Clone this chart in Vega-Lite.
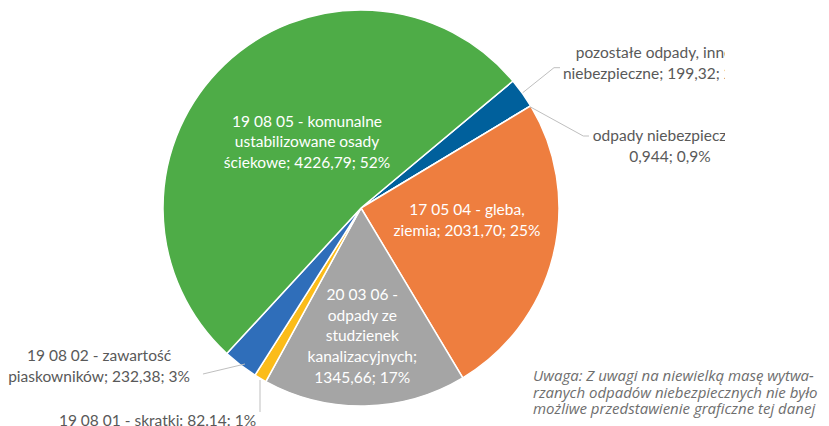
{
  "$schema": "https://vega.github.io/schema/vega-lite/v6.json",
  "width": 725,
  "height": 426,
  "autosize": {"type": "none"},
  "padding": {"left": 0, "top": 0, "right": 104, "bottom": 0},
  "background": "white",
  "config": {"view": {"stroke": null}},
  "datasets": {
    "slices": [
      {"name": "pozostałe odpady, inne niebezpieczne", "value": 199.32, "o": 1},
      {"name": "odpady niebezpieczne", "value": 0.944, "o": 2},
      {"name": "17 05 04 - gleba, ziemia", "value": 2031.70, "o": 3},
      {"name": "20 03 06 - odpady ze studzienek kanalizacyjnych", "value": 1345.66, "o": 4},
      {"name": "19 08 01 - skratki", "value": 82.14, "o": 5},
      {"name": "19 08 02 - zawartość piaskowników", "value": 232.38, "o": 6},
      {"name": "19 08 05 - komunalne ustabilizowane osady ściekowe", "value": 4226.79, "o": 7}
    ],
    "leaders": [
      {"id": "a", "i": 1, "x": 0.8167, "y": 0.5823},
      {"id": "a", "i": 2, "x": 0.9747, "y": 0.7086},
      {"id": "a", "i": 3, "x": 1.0051, "y": 0.7086},
      {"id": "b", "i": 1, "x": 0.8535, "y": 0.5116},
      {"id": "b", "i": 2, "x": 1.1227, "y": 0.3636},
      {"id": "b", "i": 3, "x": 1.1515, "y": 0.3636},
      {"id": "c", "i": 1, "x": -0.5859, "y": -0.7879},
      {"id": "c", "i": 2, "x": -0.798, "y": -0.8384},
      {"id": "d", "i": 1, "x": -0.5101, "y": -0.8687},
      {"id": "d", "i": 2, "x": -0.5101, "y": -1.0303}
    ],
    "inside": [
      {"t": "19 08 05 - komunalne\nustabilizowane osady\nściekowe; 4226,79; 52%", "x": -0.2727, "y": 0.4359},
      {"t": "17 05 04 - gleba,\nziemia; 2031,70; 25%", "x": 0.5354, "y": -0.0101},
      {"t": "20 03 06 -\nodpady ze\nstudzienek\nkanalizacyjnych;\n1345,66; 17%", "x": 0.0066, "y": -0.4394}
    ],
    "outsideClip": [
      {"t": "pozostałe odpady, inne\nniebezpieczne; 199,32; 2%", "x": 1.4798, "y": 0.7828},
      {"t": "odpady niebezpieczne;\n0,944; 0,9%", "x": 1.5606, "y": 0.3636}
    ],
    "outside": [
      {"t": "19 08 02 - zawartość\npiaskowników; 232,38; 3%", "x": -1.3232, "y": -0.7475},
      {"t": "19 08 01 - skratki: 82.14: 1%", "x": -1.0278, "y": -1.0742}
    ],
    "note": [
      {"t": "Uwaga: Z uwagi na niewielką masę wytwa-\nrzanych odpadów niebezpiecznych nie było\nmożliwe przedstawienie graficzne tej danej", "x": 0.8687, "y": -0.8485}
    ]
  },
  "layer": [
    {
      "data": {"name": "slices"},
      "mark": {"type": "arc", "outerRadius": 198, "stroke": "white", "strokeWidth": 1.5},
      "encoding": {
        "x": {"datum": 0, "type": "quantitative", "scale": {"domain": [-1.82323, 1.83838], "nice": false, "zero": false}, "axis": null},
        "y": {"datum": 0, "type": "quantitative", "scale": {"domain": [-1.10101, 1.05051], "nice": false, "zero": false}, "axis": null},
        "theta": {"field": "value", "type": "quantitative", "stack": true, "scale": {"range": [0.8744, 7.1576]}},
        "order": {"field": "o", "type": "quantitative"},
        "color": {
          "field": "name", "type": "nominal", "legend": null,
          "scale": {
            "domain": ["pozostałe odpady, inne niebezpieczne", "odpady niebezpieczne", "17 05 04 - gleba, ziemia", "20 03 06 - odpady ze studzienek kanalizacyjnych", "19 08 01 - skratki", "19 08 02 - zawartość piaskowników", "19 08 05 - komunalne ustabilizowane osady ściekowe"],
            "range": ["#00609C", "#7f3f98", "#EE7E3F", "#A5A5A5", "#FBBC1A", "#2F6EBA", "#4EAC47"]
          }
        }
      }
    },
    {
      "data": {"name": "leaders"},
      "mark": {"type": "line", "color": "#BFBFBF", "strokeWidth": 1},
      "encoding": {
        "x": {"field": "x", "type": "quantitative"},
        "y": {"field": "y", "type": "quantitative"},
        "detail": {"field": "id"},
        "order": {"field": "i", "type": "quantitative"}
      }
    },
    {
      "data": {"name": "inside"},
      "mark": {"type": "text", "lineBreak": "\n", "font": "Lato", "fontSize": 15.5, "lineHeight": 20.7, "color": "white", "align": "center", "baseline": "middle"},
      "encoding": {
        "x": {"field": "x", "type": "quantitative"},
        "y": {"field": "y", "type": "quantitative"},
        "text": {"field": "t"}
      }
    },
    {
      "data": {"name": "outsideClip"},
      "mark": {"type": "text", "clip": true, "lineBreak": "\n", "font": "Lato", "fontSize": 15.5, "lineHeight": 20.5, "color": "#595959", "align": "center", "baseline": "middle"},
      "encoding": {
        "x": {"field": "x", "type": "quantitative"},
        "y": {"field": "y", "type": "quantitative"},
        "text": {"field": "t"}
      }
    },
    {
      "data": {"name": "outside"},
      "mark": {"type": "text", "lineBreak": "\n", "font": "Lato", "fontSize": 15.5, "lineHeight": 20.5, "color": "#595959", "align": "center", "baseline": "middle"},
      "encoding": {
        "x": {"field": "x", "type": "quantitative"},
        "y": {"field": "y", "type": "quantitative"},
        "text": {"field": "t"}
      }
    },
    {
      "data": {"name": "note"},
      "mark": {"type": "text", "lineBreak": "\n", "font": "Open Sans", "fontStyle": "italic", "fontSize": 15, "lineHeight": 16.5, "color": "#6E6E6E", "align": "left", "baseline": "middle"},
      "encoding": {
        "x": {"field": "x", "type": "quantitative"},
        "y": {"field": "y", "type": "quantitative"},
        "text": {"field": "t"}
      }
    }
  ]
}
